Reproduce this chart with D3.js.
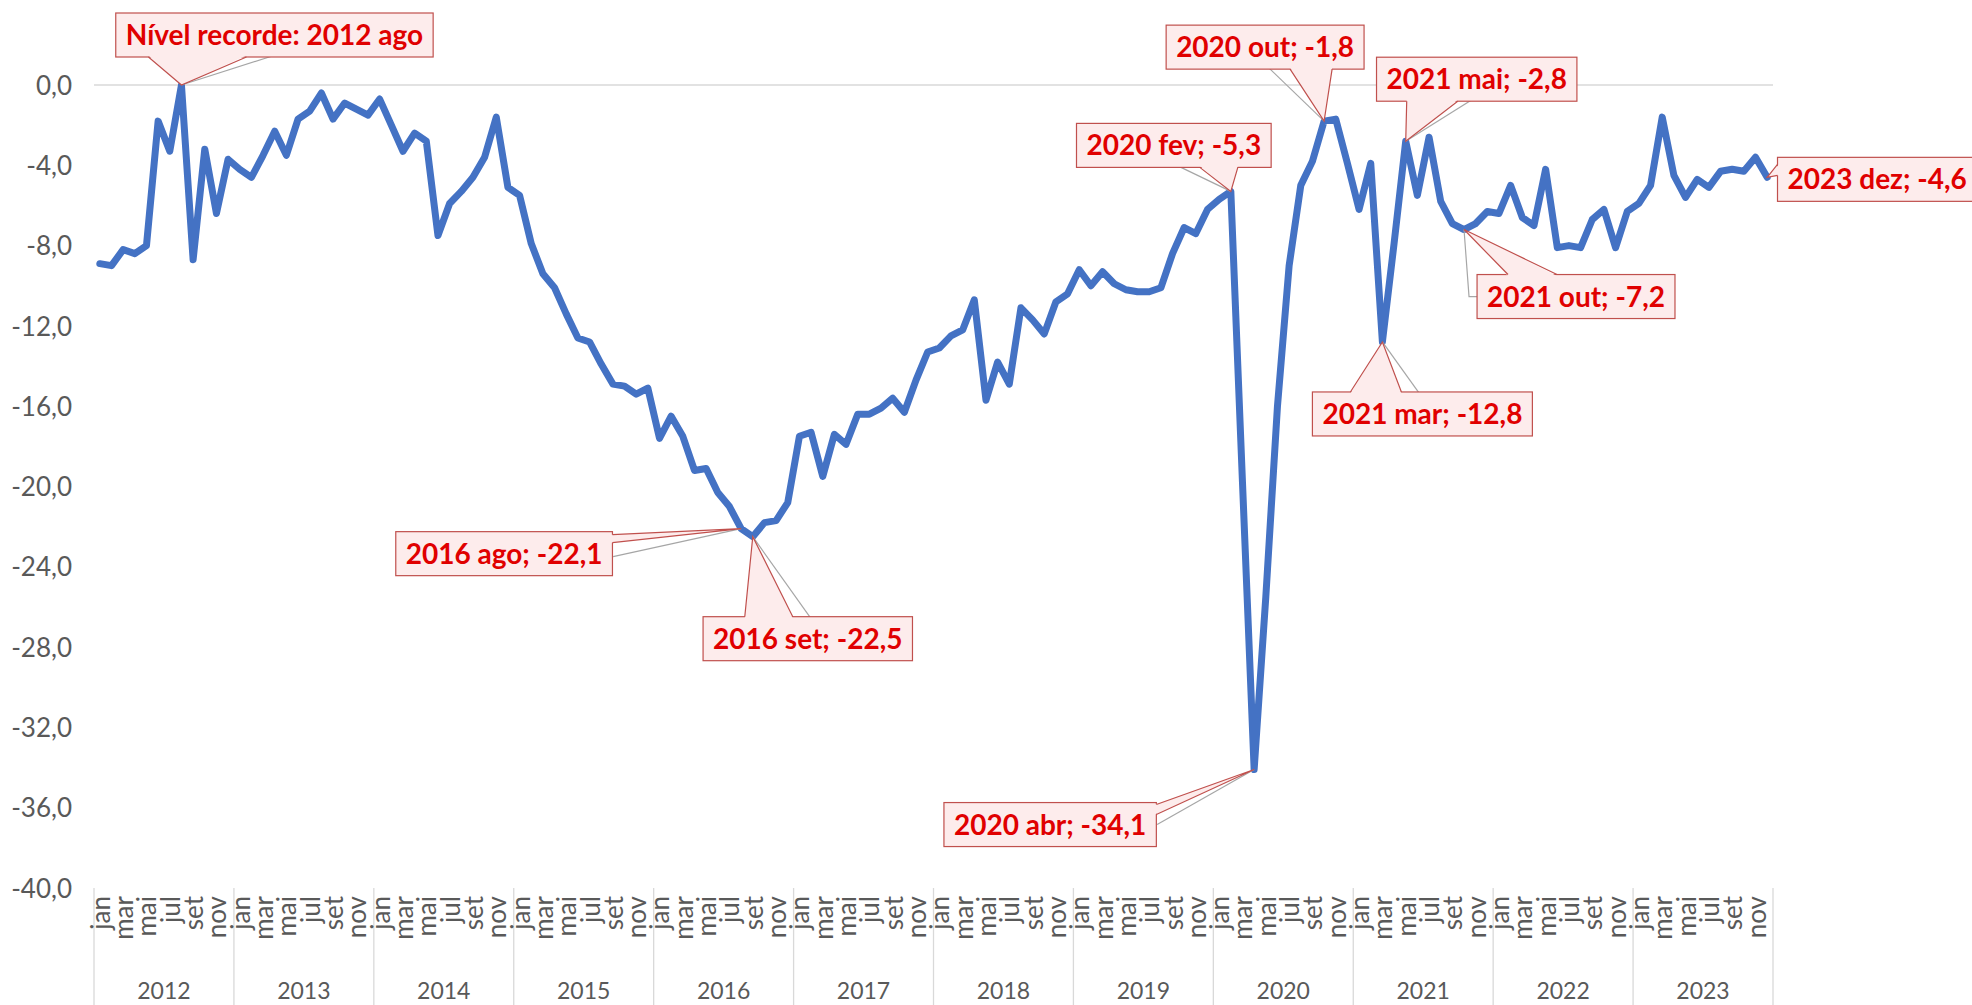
<!DOCTYPE html>
<html>
<head>
<meta charset="utf-8">
<script src="https://cdn.jsdelivr.net/npm/d3@7"></script>
<style>
  html, body { margin: 0; padding: 0; background: #ffffff; }
  svg { display: block; }
</style>
</head>
<body>
<svg id="chart" width="1972" height="1005"></svg>
<script>
// ---------------- DATA ----------------
const years = [2012, 2013, 2014, 2015, 2016, 2017, 2018, 2019, 2020, 2021, 2022, 2023];
const monthNames = ["jan", "fev", "mar", "abr", "mai", "jun", "jul", "ago", "set", "out", "nov", "dez"];

const v2012 = [-8.9, -9.0, -8.2, -8.4, -8.0, -1.8, -3.3, 0.0, -8.7, -3.2, -6.4, -3.7];
const v2013 = [-4.2, -4.6, -3.5, -2.3, -3.5, -1.7, -1.3, -0.4, -1.7, -0.9, -1.2, -1.5];
const v2014 = [-0.7, -2.0, -3.3, -2.4, -2.8, -7.5, -5.9, -5.3, -4.6, -3.6, -1.6, -5.1];
const v2015 = [-5.5, -7.9, -9.4, -10.1, -11.4, -12.6, -12.8, -13.9, -14.9, -15.0, -15.4, -15.1];
const v2016 = [-17.6, -16.5, -17.5, -19.2, -19.1, -20.3, -21.0, -22.1, -22.5, -21.8, -21.7, -20.8];
const v2017 = [-17.5, -17.3, -19.5, -17.4, -17.9, -16.4, -16.4, -16.1, -15.6, -16.3, -14.7, -13.3];
const v2018 = [-13.1, -12.5, -12.2, -10.7, -15.7, -13.8, -14.9, -11.1, -11.7, -12.4, -10.8, -10.4];
const v2019 = [-9.2, -10.0, -9.3, -9.9, -10.2, -10.3, -10.3, -10.1, -8.4, -7.1, -7.4, -6.2];
const v2020 = [-5.7, -5.3, -19.8, -34.1, -25.5, -16.0, -9.0, -5.0, -3.8, -1.8, -1.7, -3.9];
const v2021 = [-6.2, -3.9, -12.8, -7.9, -2.8, -5.5, -2.6, -5.8, -6.9, -7.2, -6.9, -6.3];
const v2022 = [-6.4, -5.0, -6.6, -7.0, -4.2, -8.1, -8.0, -8.1, -6.7, -6.2, -8.1, -6.3];
const v2023 = [-5.9, -5.0, -1.6, -4.5, -5.6, -4.7, -5.1, -4.3, -4.2, -4.3, -3.6, -4.6];

const yTicks = [0, -4, -8, -12, -16, -20, -24, -28, -32, -36, -40];
const monthTickNames = ["jan", "mar", "mai", "jul", "set", "nov"];

// annotated points (year, month); label text built from the data
const callouts = [
  { year: 2012, month: "ago", text: "Nível recorde: 2012 ago" },
  { year: 2016, month: "ago" },
  { year: 2016, month: "set" },
  { year: 2020, month: "fev" },
  { year: 2020, month: "out" },
  { year: 2021, month: "mai" },
  { year: 2021, month: "mar" },
  { year: 2021, month: "out" },
  { year: 2020, month: "abr" },
  { year: 2023, month: "dez" }
];

// ---------------- LAYOUT (callout placement relative to its point) ----------------
const calloutLayout = [
  { box: [93, -72],  wedge: { edge: "bottom", at: [-33, 65] }, leader: [[94, -30]] },
  { box: [-237, 3],  wedge: { edge: "right",  at: [6, 14] },   leader: [[-128, 28]] },
  { box: [55, 80],   wedge: { edge: "top",    at: [-8, 40] },  leader: [[59, 83]] },
  { box: [-57, -68], wedge: { edge: "bottom", at: [-31, 7] },  leader: [[-54, -26]] },
  { box: [-59, -96], wedge: { edge: "bottom", at: [-34, 8] },  leader: [[-56, -54]] },
  { box: [71, -84],  wedge: { edge: "bottom", at: [1, 52] },   leader: [[67, -42]] },
  { box: [40, 50],   wedge: { edge: "top",    at: [-32, 19] }, leader: [[38, 53]] },
  { box: [112, 45],  wedge: { edge: "top",    at: [44, 93] },  leader: [[18, 67], [5, 67]] },
  { box: [-204, 33], wedge: { edge: "right",  at: [35, 45] },  leader: [[-97, 55]] },
  { box: [110, -20], wedge: { edge: "left",   at: [-13, -2] }, leader: [] }
];

// ---------------- CHART ----------------
const FONT = "Lato, 'Open Sans', 'DejaVu Sans', sans-serif";
const AXIS_GREY = "#595959";
const LINE_GREY = "#d9d9d9";

const series = [].concat(v2012, v2013, v2014, v2015, v2016, v2017, v2018, v2019, v2020, v2021, v2022, v2023);
const data = series.map((v, i) => ({ i, year: years[Math.floor(i / 12)], month: monthNames[i % 12], value: v }));
const indexOf = (yr, m) => years.indexOf(yr) * 12 + monthNames.indexOf(m);

const plot = { left: 94, right: 1773, top: 85, bottom: 888 };

const svg = d3.select("#chart");

const x = d3.scaleBand().domain(d3.range(series.length)).range([plot.left, plot.right]).padding(0);
const cx = i => x(i) + x.bandwidth() / 2;
const y = d3.scaleLinear().domain([-40, 0]).range([plot.bottom, plot.top]);

const locale = d3.formatLocale({ decimal: ",", thousands: ".", grouping: [3], currency: ["", ""], minus: "-" });
const fmt = locale.format(".1f");

// Y axis labels
const yAxis = d3.axisLeft(y).tickValues(yTicks).tickSize(0).tickPadding(0).tickFormat(fmt);
const gy = svg.append("g").attr("transform", "translate(72,0)").call(yAxis);
gy.select(".domain").remove();
gy.attr("font-family", null).attr("font-size", null);
gy.selectAll("text")
  .attr("font-family", FONT).attr("font-size", 26).attr("fill", AXIS_GREY)
  .attr("dy", "0.35em");

// horizontal axis line at 0
svg.append("line")
  .attr("x1", plot.left).attr("x2", plot.right)
  .attr("y1", y(0)).attr("y2", y(0))
  .attr("stroke", LINE_GREY).attr("stroke-width", 1.3);

// year separators
const yearEdges = d3.range(years.length + 1).map(k => k < years.length ? x(k * 12) : plot.right);
svg.append("g").selectAll("line").data(yearEdges).join("line")
  .attr("x1", d => d).attr("x2", d => d)
  .attr("y1", y(-40)).attr("y2", 1005)
  .attr("stroke", LINE_GREY).attr("stroke-width", 1.3);

// month labels (rotated)
svg.append("g").selectAll("text")
  .data(data.filter(d => monthTickNames.includes(d.month)))
  .join("text")
  .attr("transform", d => `translate(${cx(d.i) + 10},${y(-40) + 8}) rotate(-90)`)
  .attr("text-anchor", "end")
  .attr("font-family", FONT).attr("font-size", 26).attr("fill", AXIS_GREY)
  .text(d => d.month);

// year labels
svg.append("g").selectAll("text").data(years).join("text")
  .attr("x", (d, k) => (yearEdges[k] + yearEdges[k + 1]) / 2)
  .attr("y", 999)
  .attr("text-anchor", "middle")
  .attr("font-family", FONT).attr("font-size", 23).attr("fill", AXIS_GREY)
  .text(d => d);

// series line
const line = d3.line().x(d => cx(d.i)).y(d => y(d.value));
svg.append("path").datum(data)
  .attr("d", line)
  .attr("fill", "none")
  .attr("stroke", "#4472C4")
  .attr("stroke-width", 7)
  .attr("stroke-linejoin", "round")
  .attr("stroke-linecap", "round");

// callouts
const gc = svg.append("g");
const measurer = svg.append("text").attr("font-family", FONT).attr("font-size", 28).attr("font-weight", 700);
callouts.forEach((c, k) => {
  const L = calloutLayout[k];
  const i = indexOf(c.year, c.month);
  const v = series[i];
  const label = c.text || `${c.year} ${c.month}; ${fmt(v)}`;
  const tx = cx(i), ty = y(v);
  measurer.text(label);
  const tw = measurer.node().getComputedTextLength();
  const bw = tw + 20, bh = 44;
  const bx = tx + L.box[0] - bw / 2, by = ty + L.box[1];
  const g = gc.append("g");

  // leader line (grey)
  if (L.leader.length) {
    const pts = L.leader.map(p => [tx + p[0], ty + p[1]]).concat([[tx, ty]]);
    g.append("path").attr("d", d3.line()(pts))
      .attr("fill", "none").attr("stroke", "#a6a6a6").attr("stroke-width", 1.2);
  }
  // box
  g.append("rect").attr("x", bx).attr("y", by).attr("width", bw).attr("height", bh)
    .attr("fill", "#fdecec").attr("stroke", "#c0504d").attr("stroke-width", 1.2);
  // wedge
  let p1, p2, q1, q2;
  const e = L.wedge.edge, a = L.wedge.at;
  if (e === "bottom") { p1 = [tx + a[0], by + bh]; p2 = [tx + a[1], by + bh]; q1 = [p1[0], p1[1] - 1.5]; q2 = [p2[0], p2[1] - 1.5]; }
  if (e === "top")    { p1 = [tx + a[0], by];      p2 = [tx + a[1], by];      q1 = [p1[0], p1[1] + 1.5]; q2 = [p2[0], p2[1] + 1.5]; }
  if (e === "right")  { p1 = [bx + bw, ty + a[0]]; p2 = [bx + bw, ty + a[1]]; q1 = [p1[0] - 1.5, p1[1]]; q2 = [p2[0] - 1.5, p2[1]]; }
  if (e === "left")   { p1 = [bx, ty + a[0]];      p2 = [bx, ty + a[1]];      q1 = [p1[0] + 1.5, p1[1]]; q2 = [p2[0] + 1.5, p2[1]]; }
  g.append("path").attr("d", d3.line()([q1, [tx, ty], q2]) + "Z")
    .attr("fill", "#fdecec").attr("stroke", "none");
  g.append("path").attr("d", d3.line()([p1, [tx, ty], p2]))
    .attr("fill", "none").attr("stroke", "#c0504d").attr("stroke-width", 1.2);
  // text
  g.append("text").attr("x", bx + bw / 2).attr("y", by + 32)
    .attr("text-anchor", "middle")
    .attr("font-family", FONT).attr("font-size", 28).attr("font-weight", 700)
    .attr("fill", "#e00000")
    .text(label);
});
measurer.remove();
</script>
</body>
</html>
